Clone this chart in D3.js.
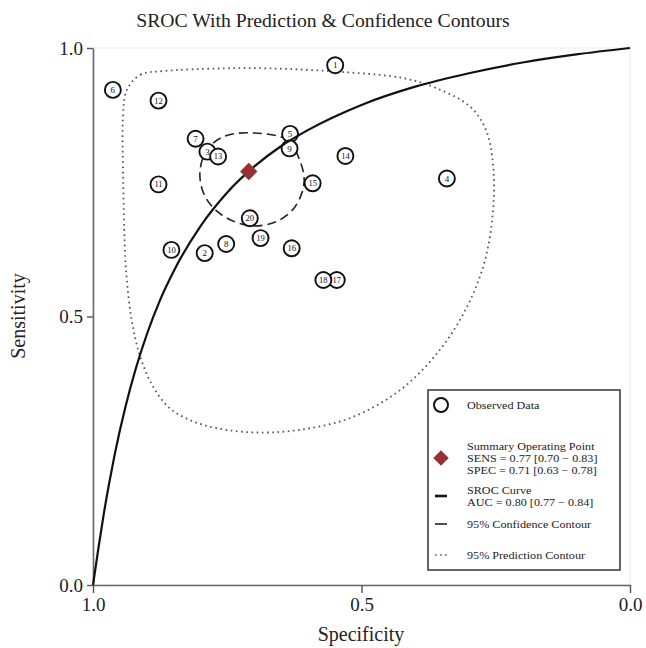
<!DOCTYPE html>
<html>
<head>
<meta charset="utf-8">
<script src="https://cdn.jsdelivr.net/npm/d3@7"></script>
<style>
  html, body { margin: 0; padding: 0; background: #fff; }
  svg { display: block; font-family: "Liberation Serif", "Times New Roman", serif; }
</style>
</head>
<body>
<svg id="chart" width="646" height="648"></svg>
<script>
// ---------- data ----------
const studyIds = [1, 2, 3, 4, 5, 6, 7, 8, 9, 10, 11, 12, 13, 14, 15, 16, 17, 18, 19, 20];
const studySpec = [0.549, 0.792, 0.787, 0.341, 0.633, 0.963, 0.809, 0.752, 0.634, 0.854,
                   0.878, 0.878, 0.767, 0.530, 0.591, 0.630, 0.546, 0.571, 0.688, 0.708];
const studySens = [0.968, 0.618, 0.807, 0.757, 0.840, 0.922, 0.831, 0.635, 0.813, 0.624,
                   0.746, 0.902, 0.798, 0.799, 0.748, 0.627, 0.568, 0.568, 0.646, 0.683];

const summarySpec = 0.71;
const summarySens = 0.77;

// SROC curve (specificity, sensitivity)
const srocSpec = [1.0, 0.995, 0.99, 0.98, 0.97, 0.96, 0.94, 0.92, 0.90, 0.875, 0.85, 0.80, 0.75,
                  0.70, 0.65, 0.60, 0.50, 0.40, 0.30, 0.20, 0.10, 0.0];
const srocSens = [0.0, 0.034, 0.068, 0.132, 0.189, 0.241, 0.330, 0.404, 0.466, 0.531, 0.584, 0.668, 0.731,
                  0.779, 0.817, 0.847, 0.894, 0.928, 0.953, 0.973, 0.988, 1.0];

// 95% confidence contour (closed)
const confSpec = [0.708, 0.639, 0.615, 0.607, 0.624, 0.658, 0.708, 0.760, 0.791, 0.801, 0.788, 0.757];
const confSens = [0.842, 0.829, 0.791, 0.749, 0.704, 0.677, 0.669, 0.689, 0.723, 0.767, 0.810, 0.835];

// 95% prediction contour (closed)
const predSpec = [0.937, 0.912, 0.869, 0.758, 0.670, 0.546, 0.423, 0.360, 0.298, 0.268, 0.255, 0.255,
                  0.270, 0.302, 0.354, 0.428, 0.521, 0.615, 0.695, 0.770, 0.819, 0.857, 0.888, 0.912,
                  0.928, 0.937, 0.940, 0.944, 0.944];
const predSens = [0.922, 0.950, 0.957, 0.962, 0.962, 0.956, 0.944, 0.925, 0.891, 0.847, 0.782, 0.698,
                  0.605, 0.521, 0.438, 0.363, 0.311, 0.289, 0.284, 0.292, 0.307, 0.329, 0.369, 0.425,
                  0.493, 0.568, 0.611, 0.767, 0.872];

const tickValues = [1.0, 0.5, 0.0];
const tickLabels = ["1.0", "0.5", "0.0"];

const titleText = "SROC With Prediction & Confidence Contours";
const xTitle = "Specificity";
const yTitle = "Sensitivity";

const legendLabels = [
  ["Observed Data"],
  ["Summary Operating Point", "SENS = 0.77 [0.70 \u2212 0.83]", "SPEC = 0.71 [0.63 \u2212 0.78]"],
  ["SROC Curve", "AUC = 0.80 [0.77 \u2212 0.84]"],
  ["95% Confidence Contour"],
  ["95% Prediction Contour"]
];

// ---------- layout ----------
const svg = d3.select("#chart");
const plotL = 93, plotR = 630, plotT = 48, plotB = 585;

const x = d3.scaleLinear().domain([1, 0]).range([plotL, plotR]);
const y = d3.scaleLinear().domain([0, 1]).range([plotB, plotT]);

// faint frame
svg.append("rect")
  .attr("x", plotL).attr("y", plotT)
  .attr("width", plotR - plotL).attr("height", plotB - plotT)
  .attr("fill", "none").attr("stroke", "#ececec").attr("stroke-width", 1);

// title
svg.append("text")
  .attr("x", 323).attr("y", 27)
  .attr("text-anchor", "middle")
  .attr("font-size", 19.7)
  .attr("fill", "#222")
  .text(titleText);

// axes
const fmt = (d) => tickLabels[tickValues.indexOf(d)];
const yAxis = svg.append("g")
  .attr("transform", `translate(${plotL},0)`)
  .call(d3.axisLeft(y).tickValues(tickValues).tickFormat(fmt).tickSizeInner(6).tickSizeOuter(0).tickPadding(4));
const xAxis = svg.append("g")
  .attr("transform", `translate(0,${plotB})`)
  .call(d3.axisBottom(x).tickValues(tickValues).tickFormat(fmt).tickSizeInner(8).tickSizeOuter(0).tickPadding(5));

[yAxis, xAxis].forEach(g => {
  g.select(".domain").attr("stroke", "#666").attr("stroke-width", 1.6);
  g.selectAll(".tick line").attr("stroke", "#555").attr("stroke-width", 1.4);
  g.selectAll(".tick text").attr("font-size", 19).attr("fill", "#222")
    .attr("font-family", "Liberation Serif, Times New Roman, serif");
});

svg.append("text")
  .attr("transform", "translate(25,316) rotate(-90)")
  .attr("text-anchor", "middle")
  .attr("font-size", 20).attr("fill", "#222")
  .text(yTitle);
svg.append("text")
  .attr("x", 361).attr("y", 641)
  .attr("text-anchor", "middle")
  .attr("font-size", 20).attr("fill", "#222")
  .text(xTitle);

// contours
const line = d3.line().x(d => x(d[0])).y(d => y(d[1]));
const predPts = predSpec.map((s, i) => [s, predSens[i]]);
const confPts = confSpec.map((s, i) => [s, confSens[i]]);
const srocPts = srocSpec.map((s, i) => [s, srocSens[i]]);

svg.append("path")
  .attr("d", line.curve(d3.curveCatmullRomClosed.alpha(0.5))(predPts))
  .attr("fill", "none").attr("stroke", "#555").attr("stroke-width", 1.8)
  .attr("stroke-dasharray", "1.6,3.6");

svg.append("path")
  .attr("d", line.curve(d3.curveCatmullRomClosed.alpha(0.5))(confPts))
  .attr("fill", "none").attr("stroke", "#222").attr("stroke-width", 1.6)
  .attr("stroke-dasharray", "9,5");

// observed studies
const pts = svg.append("g");
studyIds.forEach((id, i) => {
  const g = pts.append("g").attr("transform", `translate(${x(studySpec[i])},${y(studySens[i])})`);
  g.append("circle").attr("r", 8)
    .attr("fill", "#fff").attr("stroke", "#111").attr("stroke-width", 1.9);
  g.append("text")
    .attr("text-anchor", "middle").attr("dy", "0.35em")
    .attr("font-size", id >= 10 ? 8.5 : 9).attr("fill", "#111")
    .text(id);
});

// SROC curve
svg.append("path")
  .attr("d", line.curve(d3.curveMonotoneX)(srocPts))
  .attr("fill", "none").attr("stroke", "#111").attr("stroke-width", 2.2);

// summary point
svg.append("path")
  .attr("d", d3.symbol().type(d3.symbolSquare).size(150)())
  .attr("transform", `translate(${x(summarySpec)},${y(summarySens)}) rotate(45)`)
  .attr("fill", "#983232");

// legend
const lg = svg.append("g");
lg.append("rect")
  .attr("x", 428).attr("y", 390).attr("width", 192).attr("height", 180)
  .attr("fill", "#fff").attr("stroke", "#333").attr("stroke-width", 1.5);

const symX = 441, txtX = 467;
const rowY = [405, 446, 490, 524, 555];
const lineH = 12;
legendLabels.forEach((rows, i) => {
  rows.forEach((t, j) => {
    lg.append("text")
      .attr("transform", `translate(${txtX},${rowY[i] + j * lineH + 4}) scale(1.17,1)`)
      .attr("font-size", 10.4).attr("fill", "#222")
      .text(t);
  });
});
// symbols
lg.append("circle").attr("cx", symX).attr("cy", rowY[0]).attr("r", 7)
  .attr("fill", "#fff").attr("stroke", "#111").attr("stroke-width", 2);
lg.append("path")
  .attr("d", d3.symbol().type(d3.symbolSquare).size(120)())
  .attr("transform", `translate(${symX},${rowY[1] + lineH}) rotate(45)`)
  .attr("fill", "#983232");
lg.append("line").attr("x1", symX - 6).attr("x2", symX + 6)
  .attr("y1", rowY[2] + 6).attr("y2", rowY[2] + 6)
  .attr("stroke", "#111").attr("stroke-width", 2.6);
lg.append("line").attr("x1", symX - 6).attr("x2", symX + 6)
  .attr("y1", rowY[3]).attr("y2", rowY[3])
  .attr("stroke", "#222").attr("stroke-width", 1.6);
lg.append("line").attr("x1", symX - 6).attr("x2", symX + 7)
  .attr("y1", rowY[4]).attr("y2", rowY[4])
  .attr("stroke", "#555").attr("stroke-width", 1.6).attr("stroke-dasharray", "1.5,3.5");
</script>
</body>
</html>
